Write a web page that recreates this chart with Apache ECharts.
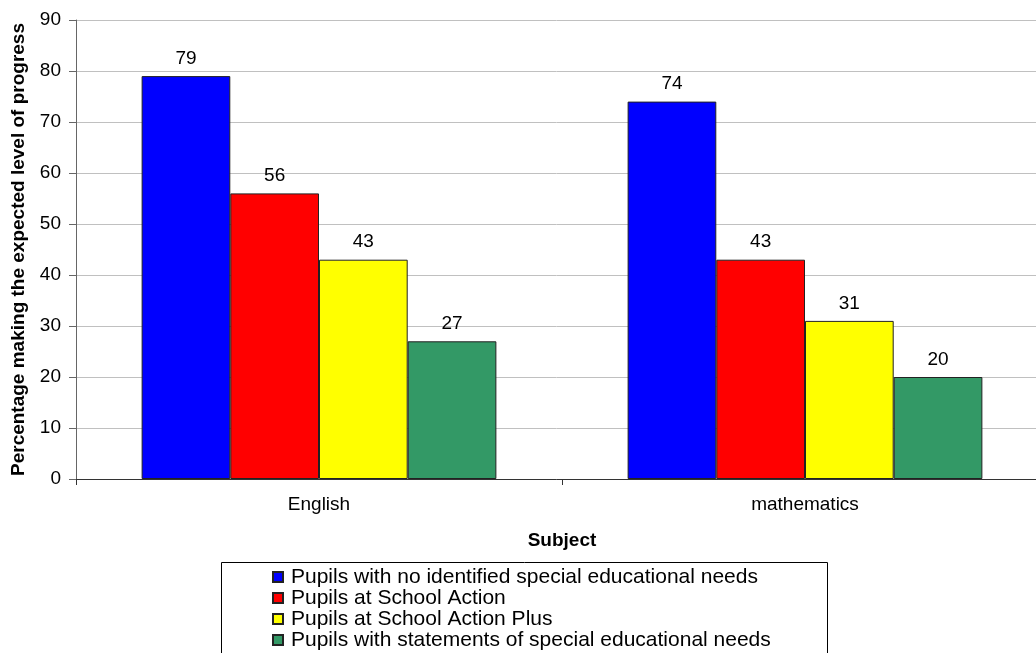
<!DOCTYPE html>
<html>
<head>
<meta charset="utf-8">
<script src="https://cdn.jsdelivr.net/npm/echarts@6/dist/echarts.min.js"></script>
<style>
html,body{margin:0;padding:0;background:#fff;}
#c{width:1036px;height:653px;}
</style>
</head>
<body>
<div id="c"></div>
<script>
const categories = ["English", "mathematics"];
const seriesNames = [
  "Pupils with no identified special educational needs",
  "Pupils at School Action",
  "Pupils at School Action Plus",
  "Pupils with statements of special educational needs"
];
const noSEN = [79, 74];
const schoolAction = [56, 43];
const schoolActionPlus = [43, 31];
const statements = [27, 20];
const colors = ["#0000FF", "#FF0000", "#FFFF00", "#339966"];
const yTicks = [0, 10, 20, 30, 40, 50, 60, 70, 80, 90];

const seriesData = [noSEN, schoolAction, schoolActionPlus, statements];
const font = "'Liberation Sans', Arial, sans-serif";

const chart = echarts.init(document.getElementById('c'), null, {renderer: 'canvas'});
chart.setOption({
  animation: false,
  backgroundColor: '#fff',
  textStyle: {fontFamily: font},
  grid: {left: 76, top: 20, width: 972, height: 459, containLabel: false, outerBoundsMode: 'none'},
  xAxis: {
    type: 'category',
    data: categories,
    name: 'Subject',
    nameLocation: 'middle',
    nameGap: 52,
    nameTextStyle: {fontFamily: font, fontSize: 19, fontWeight: 'bold', color: '#000'},
    axisLine: {lineStyle: {color: '#333', width: 1}},
    axisTick: {show: true, alignWithLabel: false, length: 6, lineStyle: {color: '#333'}},
    axisLabel: {fontFamily: font, fontSize: 19, color: '#000', margin: 16},
    splitLine: {show: false}
  },
  yAxis: {
    type: 'value',
    min: yTicks[0],
    max: yTicks[yTicks.length - 1],
    interval: 10,
    name: 'Percentage making the expected level of progress',
    nameLocation: 'middle',
    nameGap: 48,
    nameTextStyle: {fontFamily: font, fontSize: 19, fontWeight: 'bold', color: '#000'},
    axisLine: {show: true, lineStyle: {color: '#666', width: 1}},
    axisTick: {show: true, length: 7, lineStyle: {color: '#666'}},
    axisLabel: {fontFamily: font, fontSize: 19, color: '#000', margin: 15},
    splitLine: {show: true, lineStyle: {color: '#c0c0c0', width: 1}}
  },
  legend: {
    orient: 'vertical',
    left: 272,
    top: 566.5,
    itemWidth: 10,
    itemHeight: 10,
    itemGap: 0,
    icon: 'rect',
    padding: 0,
    textStyle: {fontFamily: font, fontSize: 21, color: '#000', lineHeight: 19, padding: [0, 0, 0, 3]},
    data: seriesNames
  },
  graphic: [{
    type: 'rect',
    shape: {x: 221.5, y: 562.5, width: 606, height: 120},
    style: {fill: 'none', stroke: '#000', lineWidth: 1},
    silent: true,
    z: -1
  }],
  series: seriesNames.map((n, i) => ({
    name: n,
    type: 'bar',
    data: seriesData[i],
    barGap: '0%',
    barCategoryGap: '27%',
    itemStyle: {color: colors[i], borderColor: '#222', borderWidth: 1},
    label: {show: true, position: 'top', distance: 8, fontFamily: font, fontSize: 19, color: '#000'}
  }))
});
</script>
</body>
</html>
